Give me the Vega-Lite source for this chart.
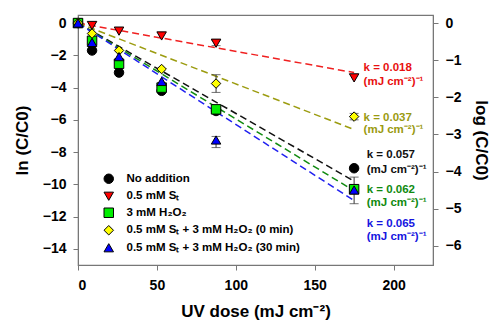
{
  "$schema": "https://vega.github.io/schema/vega-lite/v6.json",
  "width": 355,
  "height": 250,
  "autosize": {"type": "none"},
  "padding": {"left": 78, "top": 15, "right": 59, "bottom": 63},
  "background": "white",
  "config": {
    "font": "Liberation Sans",
    "view": {"stroke": "#777777", "strokeWidth": 1.2},
    "axis": {
      "domainColor": "#777777",
      "tickColor": "#777777",
      "tickSize": 5,
      "labelFont": "Liberation Sans",
      "labelFontWeight": "bold",
      "labelFontSize": 14,
      "labelColor": "black",
      "labelOverlap": false,
      "titleFont": "Liberation Sans",
      "titleFontWeight": "bold",
      "titleFontSize": 17,
      "titleColor": "black",
      "grid": false
    }
  },
  "datasets": {
    "pts": [
      {"series": "No addition", "dose": 0, "ln": 0},
      {"series": "No addition", "dose": 8.9, "ln": -1.7},
      {"series": "No addition", "dose": 26, "ln": -3.07},
      {"series": "No addition", "dose": 53, "ln": -4.2},
      {"series": "No addition", "dose": 87.5, "ln": -5.45},
      {"series": "No addition", "dose": 175, "ln": -9.0},
      {"series": "0.5 mM Sₜ", "dose": 0, "ln": 0},
      {"series": "0.5 mM Sₜ", "dose": 8.9, "ln": -0.15},
      {"series": "0.5 mM Sₜ", "dose": 26, "ln": -0.5},
      {"series": "0.5 mM Sₜ", "dose": 53, "ln": -0.8},
      {"series": "0.5 mM Sₜ", "dose": 87.5, "ln": -1.25},
      {"series": "0.5 mM Sₜ", "dose": 175, "ln": -3.4},
      {"series": "3 mM H₂O₂", "dose": 0, "ln": 0},
      {"series": "3 mM H₂O₂", "dose": 8.9, "ln": -1.1},
      {"series": "3 mM H₂O₂", "dose": 26, "ln": -2.52},
      {"series": "3 mM H₂O₂", "dose": 53, "ln": -4.0},
      {"series": "3 mM H₂O₂", "dose": 87.5, "ln": -5.35},
      {"series": "3 mM H₂O₂", "dose": 175, "ln": -10.3},
      {"series": "0.5 mM Sₜ + 3 mM H₂O₂ (0 min)", "dose": 0, "ln": 0},
      {"series": "0.5 mM Sₜ + 3 mM H₂O₂ (0 min)", "dose": 8.9, "ln": -0.65},
      {"series": "0.5 mM Sₜ + 3 mM H₂O₂ (0 min)", "dose": 26, "ln": -1.7},
      {"series": "0.5 mM Sₜ + 3 mM H₂O₂ (0 min)", "dose": 53, "ln": -2.85},
      {"series": "0.5 mM Sₜ + 3 mM H₂O₂ (0 min)", "dose": 87.5, "ln": -3.75},
      {"series": "0.5 mM Sₜ + 3 mM H₂O₂ (0 min)", "dose": 175, "ln": -5.8},
      {"series": "0.5 mM Sₜ + 3 mM H₂O₂ (30 min)", "dose": 0, "ln": 0},
      {"series": "0.5 mM Sₜ + 3 mM H₂O₂ (30 min)", "dose": 8.9, "ln": -1.2},
      {"series": "0.5 mM Sₜ + 3 mM H₂O₂ (30 min)", "dose": 26, "ln": -2.08},
      {"series": "0.5 mM Sₜ + 3 mM H₂O₂ (30 min)", "dose": 53, "ln": -3.62},
      {"series": "0.5 mM Sₜ + 3 mM H₂O₂ (30 min)", "dose": 87.5, "ln": -7.25},
      {"series": "0.5 mM Sₜ + 3 mM H₂O₂ (30 min)", "dose": 175, "ln": -10.35}
    ],
    "fits": [
      {"grp": "none", "dose": 0, "ln": 0},
      {"grp": "none", "dose": 175, "ln": -9.8},
      {"grp": "st", "dose": 0, "ln": 0},
      {"grp": "st", "dose": 175, "ln": -3.07},
      {"grp": "h2o2", "dose": 0, "ln": 0},
      {"grp": "h2o2", "dose": 175, "ln": -10.4},
      {"grp": "st_h2o2_0", "dose": 0, "ln": 0},
      {"grp": "st_h2o2_0", "dose": 175, "ln": -6.6},
      {"grp": "st_h2o2_30", "dose": 0, "ln": 0},
      {"grp": "st_h2o2_30", "dose": 175, "ln": -11.0}
    ],
    "errs": [
      {"dose": 87.5, "lo": -1.4, "hi": -1.08},
      {"dose": 87.5, "lo": -4.3, "hi": -3.2},
      {"dose": 175, "lo": -6.0, "hi": -5.6},
      {"dose": 87.5, "lo": -7.72, "hi": -7.03},
      {"dose": 175, "lo": -11.2, "hi": -9.55}
    ],
    "ann": [
      {"grp": "st", "dose": 181, "ln": -2.76, "text": "k = 0.018"},
      {"grp": "st", "dose": 181, "ln": -3.63, "text": "(mJ cm⁻²)⁻¹"},
      {"grp": "st_h2o2_0", "dose": 181, "ln": -5.86, "text": "k = 0.037"},
      {"grp": "st_h2o2_0", "dose": 181, "ln": -6.66, "text": "(mJ cm⁻²)⁻¹"},
      {"grp": "none", "dose": 183, "ln": -8.21, "text": "k = 0.057"},
      {"grp": "none", "dose": 183, "ln": -9.08, "text": "(mJ cm⁻²)⁻¹"},
      {"grp": "h2o2", "dose": 183, "ln": -10.38, "text": "k = 0.062"},
      {"grp": "h2o2", "dose": 183, "ln": -11.13, "text": "(mJ cm⁻²)⁻¹"},
      {"grp": "st_h2o2_30", "dose": 183, "ln": -12.43, "text": "k = 0.065"},
      {"grp": "st_h2o2_30", "dose": 183, "ln": -13.24, "text": "(mJ cm⁻²)⁻¹"}
    ]
  },
  "encoding": {
    "x": {
      "field": "dose", "type": "quantitative",
      "scale": {"domain": [0, 225], "nice": false, "zero": false},
      "axis": {"values": [0, 50, 100, 150, 200], "title": "UV dose (mJ cm⁻²)", "labelPadding": 8, "titlePadding": 11}
    }
  },
  "layer": [
    {
      "data": {"name": "fits"},
      "mark": {"type": "line", "strokeDash": [7, 4], "strokeWidth": 1.5},
      "encoding": {
        "y": {
          "field": "ln", "type": "quantitative",
          "scale": {"domain": [-15, 0.5], "nice": false, "zero": false},
          "axis": {"values": [0, -2, -4, -6, -8, -10, -12, -14], "title": "ln (C/C0)", "labelPadding": 7, "titlePadding": 11}
        },
        "stroke": {
          "field": "grp", "type": "nominal",
          "scale": {
            "domain": ["none", "st", "h2o2", "st_h2o2_0", "st_h2o2_30"],
            "range": ["#111111", "#f02020", "#108a10", "#9c9c10", "#2020f0"]
          },
          "legend": null
        },
        "detail": {"field": "grp"}
      }
    },
    {
      "data": {"name": "errs"},
      "mark": {"type": "rule", "color": "#333333", "strokeWidth": 1},
      "encoding": {
        "y": {"field": "lo", "type": "quantitative", "scale": {"domain": [-15, 0.5], "nice": false, "zero": false}, "axis": null},
        "y2": {"field": "hi"}
      }
    },
    {
      "data": {"name": "errs"},
      "mark": {"type": "tick", "orient": "horizontal", "color": "#333333", "size": 9, "thickness": 1},
      "encoding": {"y": {"field": "lo", "type": "quantitative", "scale": {"domain": [-15, 0.5], "nice": false, "zero": false}, "axis": null}}
    },
    {
      "data": {"name": "errs"},
      "mark": {"type": "tick", "orient": "horizontal", "color": "#333333", "size": 9, "thickness": 1},
      "encoding": {"y": {"field": "hi", "type": "quantitative", "scale": {"domain": [-15, 0.5], "nice": false, "zero": false}, "axis": null}}
    },
    {
      "data": {"name": "pts"},
      "mark": {"type": "point", "filled": true, "stroke": "black", "strokeWidth": 1, "size": 90, "opacity": 1},
      "encoding": {
        "y": {"field": "ln", "type": "quantitative", "scale": {"domain": [-15, 0.5], "nice": false, "zero": false}, "axis": null},
        "color": {
          "field": "series", "type": "nominal",
          "scale": {
            "domain": ["No addition", "0.5 mM Sₜ", "3 mM H₂O₂", "0.5 mM Sₜ + 3 mM H₂O₂ (0 min)", "0.5 mM Sₜ + 3 mM H₂O₂ (30 min)"],
            "range": ["#000000", "#ff0000", "#00ee00", "#ffff00", "#0000ff"]
          },
          "legend": {
            "title": null,
            "orient": "none",
            "legendX": 25,
            "legendY": 158,
            "padding": 0,
            "labelFont": "Liberation Sans",
            "labelFontWeight": "bold",
            "labelFontSize": 11.5,
            "labelColor": "black",
            "labelOffset": 12,
            "labelLimit": 400,
            "rowPadding": 3.5,
            "symbolSize": 90,
            "symbolStrokeColor": "black",
            "symbolStrokeWidth": 1
          }
        },
        "shape": {
          "field": "series", "type": "nominal",
          "scale": {
            "domain": ["No addition", "0.5 mM Sₜ", "3 mM H₂O₂", "0.5 mM Sₜ + 3 mM H₂O₂ (0 min)", "0.5 mM Sₜ + 3 mM H₂O₂ (30 min)"],
            "range": ["circle", "triangle-down", "square", "diamond", "triangle-up"]
          },
          "legend": {
            "title": null,
            "orient": "none",
            "legendX": 25,
            "legendY": 158,
            "padding": 0,
            "labelFont": "Liberation Sans",
            "labelFontWeight": "bold",
            "labelFontSize": 11.5,
            "labelColor": "black",
            "labelOffset": 12,
            "labelLimit": 400,
            "rowPadding": 3.5,
            "symbolSize": 90,
            "symbolStrokeColor": "black",
            "symbolStrokeWidth": 1
          }
        }
      }
    },
    {
      "data": {"name": "ann"},
      "mark": {"type": "text", "align": "left", "baseline": "middle", "fontSize": 11.5, "fontWeight": "bold", "font": "Liberation Sans"},
      "encoding": {
        "y": {"field": "ln", "type": "quantitative", "scale": {"domain": [-15, 0.5], "nice": false, "zero": false}, "axis": null},
        "text": {"field": "text"},
        "fill": {"field": "grp", "type": "nominal",
          "scale": {
            "domain": ["none", "st", "h2o2", "st_h2o2_0", "st_h2o2_30"],
            "range": ["#111111", "#e81010", "#108a10", "#9a9a10", "#1515e0"]
          },
          "legend": null}
      }
    },
    {
      "data": {"name": "pts"},
      "mark": {"type": "point", "opacity": 0},
      "encoding": {
        "y": {
          "field": "ln", "type": "quantitative",
          "scale": {"domain": [-6.5144, 0.2171], "nice": false, "zero": false},
          "axis": {"orient": "right", "values": [0, -1, -2, -3, -4, -5, -6], "title": "log (C/C0)", "labelPadding": 7, "titlePadding": 11}
        }
      }
    }
  ],
  "resolve": {"scale": {"y": "independent"}}
}
